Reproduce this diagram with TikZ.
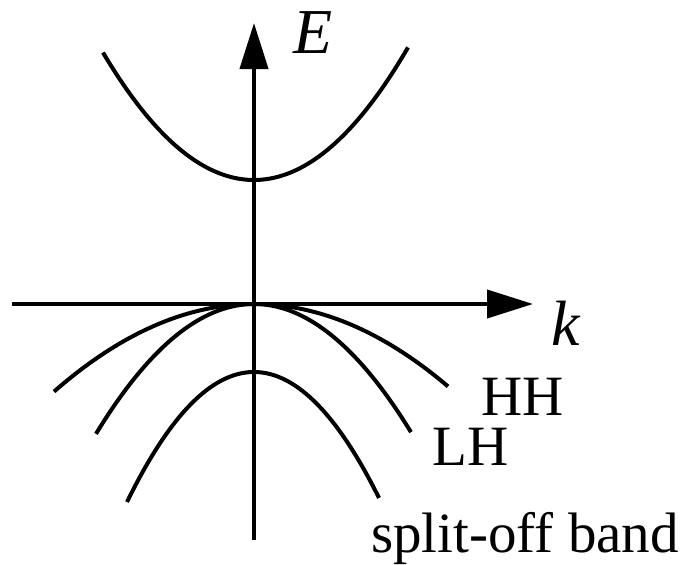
\documentclass[tikz,border=0pt]{standalone}
\usepackage{fontspec}
\setmainfont{Liberation Serif}
\usetikzlibrary{arrows.meta}
\begin{document}
\begin{tikzpicture}[x=1pt,y=-1pt,
  band/.style={line width=4pt, line cap=butt},
  axis/.style={line width=4pt, -{Triangle[length=46pt,width=28pt]}},
  lbl/.style={inner sep=0pt, anchor=base west, font=\fontsize{57}{60}\selectfont},
  axlbl/.style={inner sep=0pt, anchor=base west, font=\fontsize{64}{68}\selectfont}]
\useasboundingbox (0,0) rectangle (689,565);
\coordinate (ybot) at (254,540);
\coordinate (ytop) at (254,23);
\coordinate (xl) at (12,304);
\coordinate (xr) at (533,304);
\draw[axis] (ybot) -- (ytop);
\draw[axis] (xl) -- (xr);
% conduction band
\draw[band] plot[domain=-15.1:15.4, samples=80] ({254+10*\x}, {180-0.559*\x*\x});
% heavy hole
\draw[band] plot[domain=-20.0:19.4, samples=80] ({254+10*\x}, {304+0.219*\x*\x});
% light hole
\draw[band] plot[domain=-15.8:15.7, samples=80] ({254+10*\x}, {304+0.52*\x*\x});
% split-off
\draw[band] plot[domain=-12.7:12.5, samples=80] ({254+10*\x}, {372+0.806*\x*\x});
\node[axlbl] (E) at (293,53) {\itshape E};
\node[axlbl] (k) at (551,345) {\itshape k};
\node[lbl] (HH) at (481,415) {HH};
\node[lbl] (LH) at (432,465) {LH};
\node[lbl] (SO) at (371,552) {split-off band};
\end{tikzpicture}
\end{document}
